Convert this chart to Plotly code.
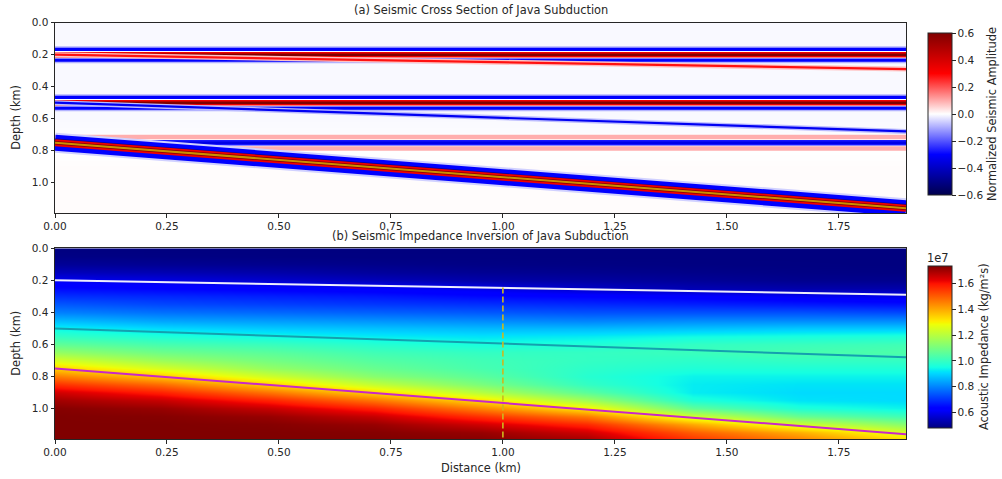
import plotly.graph_objects as go
from plotly.colors import sample_colorscale

# ---------------- data ----------------
distance_ends_km = [0.0, 1.9]
distance_ticks = [0.0, 0.25, 0.5, 0.75, 1.0, 1.25, 1.5, 1.75]
depth_ticks = [0.0, 0.2, 0.4, 0.6, 0.8, 1.0]
amp_ticks = [-0.6, -0.4, -0.2, 0.0, 0.2, 0.4, 0.6]
imp_ticks = [0.6, 0.8, 1.0, 1.2, 1.4, 1.6]

# (a) seismic section: flat reflectors and dipping interfaces
flat_reflector_depth = [0.20, 0.50, 0.75]
flat_reflector_peak = [0.60, 0.60, -0.34]
interface_start_depth = [0.20, 0.50, 0.75]
interface_end_depth = [0.29, 0.68, 1.16]
interface_peak = [0.28, -0.32, 0.60]
background_depth = [0.0, 0.60, 0.90, 1.20]
background_amp = [-0.007, -0.007, 0.003, 0.003]

# (b) impedance (units of 1e7 kg/m^2 s), one profile per distance column
imp_distance = [0.0, 0.2375, 0.475, 0.7125, 0.95, 1.1875, 1.425, 1.6625, 1.9]
imp_depth = [0.00, 0.05, 0.10, 0.15, 0.20, 0.25, 0.30, 0.35, 0.40, 0.45, 0.50, 0.55,
             0.60, 0.65, 0.70, 0.75, 0.80, 0.85, 0.90, 0.95, 1.00, 1.05, 1.10, 1.15, 1.20]
imp_col_0 = [0.484, 0.49, 0.51, 0.55, 0.61, 0.65, 0.70, 0.75, 0.80, 0.87, 0.94, 1.00,
             1.07, 1.15, 1.25, 1.35, 1.46, 1.56, 1.65, 1.70, 1.73, 1.736, 1.736, 1.736, 1.736]
imp_col_1 = [0.484, 0.488, 0.505, 0.54, 0.59, 0.64, 0.69, 0.73, 0.78, 0.84, 0.91, 0.97,
             1.03, 1.09, 1.16, 1.25, 1.36, 1.48, 1.58, 1.66, 1.71, 1.73, 1.736, 1.736, 1.736]
imp_col_2 = [0.484, 0.486, 0.50, 0.53, 0.57, 0.63, 0.68, 0.72, 0.77, 0.83, 0.89, 0.95,
             1.01, 1.06, 1.10, 1.15, 1.24, 1.35, 1.47, 1.58, 1.66, 1.71, 1.73, 1.736, 1.736]
imp_col_3 = [0.484, 0.485, 0.495, 0.515, 0.55, 0.62, 0.67, 0.71, 0.76, 0.82, 0.88, 0.93,
             0.98, 1.02, 1.05, 1.08, 1.13, 1.22, 1.34, 1.47, 1.58, 1.66, 1.71, 1.73, 1.736]
imp_col_4 = [0.484, 0.485, 0.49, 0.505, 0.53, 0.60, 0.65, 0.70, 0.75, 0.81, 0.87, 0.92,
             0.96, 1.00, 1.02, 1.03, 1.06, 1.11, 1.20, 1.33, 1.45, 1.56, 1.65, 1.71, 1.73]
imp_col_5 = [0.484, 0.484, 0.488, 0.50, 0.52, 0.56, 0.64, 0.69, 0.74, 0.80, 0.87, 0.93,
             0.97, 1.00, 1.00, 0.99, 0.98, 1.00, 1.06, 1.17, 1.31, 1.46, 1.57, 1.65, 1.70]
imp_col_6 = [0.484, 0.484, 0.486, 0.495, 0.51, 0.54, 0.63, 0.68, 0.74, 0.81, 0.88, 0.95,
             1.00, 1.01, 0.99, 0.97, 0.94, 0.93, 0.93, 0.97, 1.07, 1.24, 1.40, 1.50, 1.56]
imp_col_7 = [0.484, 0.484, 0.485, 0.49, 0.50, 0.53, 0.61, 0.67, 0.74, 0.81, 0.89, 0.96,
             1.01, 1.03, 1.00, 0.97, 0.94, 0.92, 0.91, 0.92, 0.97, 1.08, 1.24, 1.39, 1.46]
imp_col_8 = [0.484, 0.484, 0.484, 0.488, 0.50, 0.53, 0.60, 0.66, 0.73, 0.81, 0.89, 0.97,
             1.02, 1.04, 1.00, 0.97, 0.94, 0.92, 0.91, 0.91, 0.94, 1.02, 1.13, 1.25, 1.34]
imp_range = [0.484, 1.736]
profile_distance = 1.0
profile_depth = [0.245, 1.19]

# ---------------- styles ----------------
FONT = "DejaVu Sans"
TXT = "#262626"
TICK_FONT = dict(family=FONT, size=10.5, color=TXT)
LABEL_FONT = dict(family=FONT, size=11.4, color=TXT)
seismic = [[0.0, "rgb(0,0,77)"], [0.25, "rgb(0,0,255)"], [0.5, "rgb(255,255,255)"],
           [0.75, "rgb(255,0,0)"], [1.0, "rgb(128,0,0)"]]
jet = [[0.0, "rgb(0,0,128)"], [0.11, "rgb(0,0,255)"], [0.125, "rgb(0,0,255)"],
       [0.34, "rgb(0,219,255)"], [0.35, "rgb(0,230,247)"], [0.375, "rgb(21,255,226)"],
       [0.64, "rgb(238,255,8)"], [0.65, "rgb(247,245,0)"], [0.66, "rgb(255,236,0)"],
       [0.89, "rgb(255,19,0)"], [0.91, "rgb(232,0,0)"], [1.0, "rgb(128,0,0)"]]


def amp_color(a):
    t = min(max((a + 0.6) / 1.2, 0.0), 1.0)
    return sample_colorscale(seismic, [t])[0]


W, H = 1002, 479
X0, X1 = 55, 906
TOP = (22.7, 213.0)
BOT = (248.3, 439.0)


def ydom(p):
    return [1 - p[1] / H, 1 - p[0] / H]


def cbar(title, center_y, tickvals):
    return dict(
        x=928 / W, xanchor="left", xpad=0, ypad=0, y=1 - center_y / H, yanchor="middle",
        len=162 / H, lenmode="fraction", thickness=24, outlinewidth=1, outlinecolor=TXT,
        ticks="outside", ticklen=3.5, tickcolor=TXT, tickvals=tickvals, tickformat=".1f",
        tickfont=TICK_FONT, title=dict(text=title, side="right", font=LABEL_FONT))


fig = go.Figure()

# --- panel (a) background amplitude field with its colorbar
fig.add_trace(go.Heatmap(
    x=distance_ends_km, y=background_depth,
    z=[[v, v] for v in background_amp],
    zmin=-0.6, zmax=0.6, colorscale=seismic, zsmooth="best",
    hoverinfo="skip", xaxis="x", yaxis="y",
    colorbar=cbar("Normalized Seismic Amplitude", 114, amp_ticks),
))


def add_band(x, y, layers, peak, axis=("x", "y")):
    for width, frac in layers:
        fig.add_trace(go.Scatter(
            x=x, y=y, mode="lines", line=dict(color=amp_color(frac * peak), width=width),
            hoverinfo="skip", showlegend=False, xaxis=axis[0], yaxis=axis[1]))


POS_LAYERS = [(17, -0.15), (14, -0.5), (7.5, 0.0), (5.5, 0.55), (2.5, 1.0)]
NEG_LAYERS = [(16, -0.28), (7, 0.0), (5.5, 0.8), (2.5, 1.0)]

for d, pk in zip(flat_reflector_depth, flat_reflector_peak):
    add_band(distance_ends_km, [d, d], POS_LAYERS if pk > 0 else NEG_LAYERS, abs(pk) if pk > 0 else pk)

# thin dipping interfaces
THIN_LAYERS = [(5, 0.25), (2.2, 1.0)]
for i in range(2):
    add_band(distance_ends_km, [interface_start_depth[i], interface_end_depth[i]],
             THIN_LAYERS, interface_peak[i])

# dipping slab (strong reflector)
slab_y = [interface_start_depth[2], interface_end_depth[2]]
slab_pk = interface_peak[2]
add_band(distance_ends_km, slab_y, [(20, -0.09), (16, -0.5)], slab_pk)
fig.add_trace(go.Scatter(x=distance_ends_km, y=[v - 0.018 for v in slab_y], mode="lines",
                         line=dict(color=amp_color(-0.48), width=2.5), hoverinfo="skip",
                         showlegend=False, xaxis="x", yaxis="y"))
add_band(distance_ends_km, slab_y, [(7, 0.55), (3.5, 1.0)], slab_pk)
fig.add_trace(go.Scatter(x=distance_ends_km, y=slab_y, mode="lines",
                         line=dict(color="rgba(235,205,0,0.7)", width=2), hoverinfo="skip",
                         showlegend=False, xaxis="x", yaxis="y"))

# --- panel (b) impedance
cols = [imp_col_0, imp_col_1, imp_col_2, imp_col_3, imp_col_4, imp_col_5, imp_col_6, imp_col_7, imp_col_8]
z_imp = [[c[i] for c in cols] for i in range(len(imp_depth))]
fig.add_trace(go.Heatmap(
    x=imp_distance, y=imp_depth, z=z_imp, zmin=imp_range[0], zmax=imp_range[1],
    colorscale=jet, zsmooth="best", hoverinfo="skip", xaxis="x2", yaxis="y2",
    colorbar=cbar("Acoustic Impedance (kg/m²s)", 346.7, imp_ticks),
))

line_styles = [dict(color="rgba(250,250,255,0.95)", width=2),
               dict(color="rgb(20,160,175)", width=2),
               dict(color="rgb(200,40,200)", width=2)]
for i in range(3):
    fig.add_trace(go.Scatter(x=distance_ends_km, y=[interface_start_depth[i], interface_end_depth[i]],
                             mode="lines", line=line_styles[i], hoverinfo="skip", showlegend=False,
                             xaxis="x2", yaxis="y2"))
fig.add_trace(go.Scatter(x=[profile_distance, profile_distance], y=profile_depth, mode="lines",
                         line=dict(color="rgb(205,185,30)", width=1.6, dash="6px,3px"),
                         hoverinfo="skip", showlegend=False, xaxis="x2", yaxis="y2"))

axis_common = dict(showline=True, linecolor=TXT, linewidth=1, mirror=True, ticks="outside",
                   ticklen=3.5, tickwidth=1, tickcolor=TXT, showgrid=False, zeroline=False,
                   automargin=False, tickfont=TICK_FONT)
xdom = [X0 / W, X1 / W]


def note(text, x, y, angle=0):
    return dict(text=text, x=x / W, y=1 - y / H, xref="paper", yref="paper", showarrow=False,
                xanchor="center", yanchor="middle", textangle=angle, font=LABEL_FONT)


fig.update_layout(
    width=W, height=H, margin=dict(l=0, r=0, t=0, b=0, autoexpand=False),
    paper_bgcolor="white", plot_bgcolor="white", showlegend=False,
    xaxis=dict(domain=xdom, range=[0, 1.9], tickvals=distance_ticks, tickformat=".2f", anchor="y", **axis_common),
    yaxis=dict(domain=ydom(TOP), range=[1.19, 0], tickvals=depth_ticks, tickformat=".1f", anchor="x", **axis_common),
    xaxis2=dict(domain=xdom, range=[0, 1.9], tickvals=distance_ticks, tickformat=".2f", anchor="y2", **axis_common),
    yaxis2=dict(domain=ydom(BOT), range=[1.19, 0], tickvals=depth_ticks, tickformat=".1f", anchor="x2", **axis_common),
    annotations=[
        note("(a) Seismic Cross Section of Java Subduction", (X0 + X1) / 2, 10),
        note("(b) Seismic Impedance Inversion of Java Subduction", (X0 + X1) / 2, 236),
        note("Depth (km)", 16, (TOP[0] + TOP[1]) / 2, -90),
        note("Depth (km)", 16, (BOT[0] + BOT[1]) / 2, -90),
        note("Distance (km)", (X0 + X1) / 2, 468),
        note("1e7", 938, 258),
    ],
)

fig.write_html("out.html")
